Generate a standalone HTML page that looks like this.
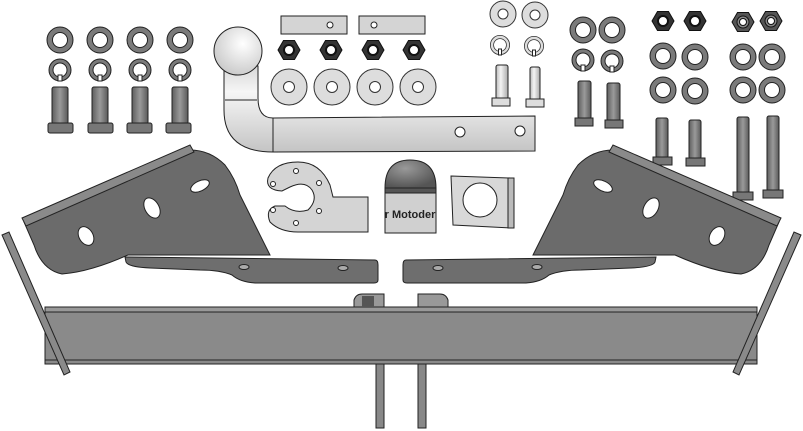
<!DOCTYPE html>
<html><head><meta charset="utf-8"><style>
html,body{margin:0;padding:0;background:#fff;width:803px;height:431px;overflow:hidden}
svg{display:block}
</style></head><body>
<svg width="803" height="431" viewBox="0 0 803 431" xmlns="http://www.w3.org/2000/svg">
<defs>
<linearGradient id="shank" x1="0" x2="1"><stop offset="0" stop-color="#5e5e5e"/><stop offset=".5" stop-color="#9a9a9a"/><stop offset="1" stop-color="#5a5a5a"/></linearGradient>
<linearGradient id="lshank" x1="0" x2="1"><stop offset="0" stop-color="#bbb"/><stop offset=".4" stop-color="#f4f4f4"/><stop offset="1" stop-color="#aaa"/></linearGradient>
<linearGradient id="bar" x1="0" y1="0" x2="0" y2="1"><stop offset="0" stop-color="#d8d8d8"/><stop offset=".3" stop-color="#f6f6f6"/><stop offset="1" stop-color="#c4c4c4"/></linearGradient>
<radialGradient id="ball" cx=".6" cy=".35" r=".7"><stop offset="0" stop-color="#fff"/><stop offset="1" stop-color="#c8c8c8"/></radialGradient>
<radialGradient id="dome" cx=".4" cy=".3" r=".7"><stop offset="0" stop-color="#999"/><stop offset="1" stop-color="#555"/></radialGradient>
<g id="dw"><circle r="13" fill="#7a7a7a" stroke="#222" stroke-width="1"/><circle r="7.5" fill="#fff" stroke="#222" stroke-width="1"/></g>
<g id="ring"><circle r="9" fill="none" stroke="#222" stroke-width="5"/><circle r="9" fill="none" stroke="#7a7a7a" stroke-width="3"/><rect x="-2" y="5" width="4" height="6" fill="#fff"/></g>
<g id="lring"><circle r="8" fill="none" stroke="#333" stroke-width="4"/><circle r="8" fill="none" stroke="#ddd" stroke-width="2.4"/><rect x="-1.5" y="4" width="3" height="6" fill="#fff"/></g>
<g id="nut"><polygon points="-11,0 -5.5,-9.5 5.5,-9.5 11,0 5.5,9.5 -5.5,9.5" fill="#333" stroke="#111"/><circle r="5" fill="#fff" stroke="#111" stroke-width="2"/></g>
<g id="nut2"><polygon points="-11,0 -5.5,-9.5 5.5,-9.5 11,0 5.5,9.5 -5.5,9.5" fill="#555" stroke="#111"/><circle r="6" fill="#888" stroke="#111"/><circle r="3.5" fill="#fff" stroke="#111"/></g>
<g id="lw"><circle r="13" fill="#ddd" stroke="#333"/><circle r="5" fill="#fff" stroke="#333"/></g>
<g id="bw"><circle r="18" fill="#ddd" stroke="#333"/><circle r="5.5" fill="#fff" stroke="#333"/></g>
<g id="lbr" stroke="#222">
<path d="M24,222 L190,150 Q210,150 225,165 Q235,178 240,195 L270,255 L128,255 Q90,272 62,274 Q42,270 34,245 Z" fill="#6b6b6b"/>
<path d="M22,218 L190,145 L194,152 L26,226 Z" fill="#8a8a8a"/>
<ellipse cx="200" cy="186" rx="10" ry="5" transform="rotate(-25 200 186)" fill="#fff"/>
<ellipse cx="152" cy="208" rx="7" ry="11" transform="rotate(-30 152 208)" fill="#fff"/>
<ellipse cx="86" cy="236" rx="7" ry="10" transform="rotate(-30 86 236)" fill="#fff"/>
</g>
<g id="lpl" stroke="#222">
<path d="M125,257 L375,260 Q378,260 378,265 L378,280 Q378,283 374,283 L255,283 Q240,282 232,275 Q220,270 200,270 L150,268 Q128,267 126,262 Z" fill="#6e6e6e"/>
<ellipse cx="244" cy="267" rx="5" ry="2.5" fill="#aaa"/><ellipse cx="343" cy="268" rx="5" ry="2.5" fill="#aaa"/>
</g>
</defs>
<g stroke="#222" stroke-width="1">
<use href="#dw" x="60" y="40"/><use href="#dw" x="100" y="40"/><use href="#dw" x="140" y="40"/><use href="#dw" x="180" y="40"/>
<use href="#ring" x="60" y="70"/><use href="#ring" x="100" y="70"/><use href="#ring" x="140" y="70"/><use href="#ring" x="180" y="70"/>
<g fill="url(#shank)">
<rect x="52" y="87" width="16" height="37" rx="2"/><rect x="92" y="87" width="16" height="37" rx="2"/><rect x="132" y="87" width="16" height="37" rx="2"/><rect x="172" y="87" width="16" height="37" rx="2"/>
</g>
<g fill="#777">
<rect x="48" y="123" width="25" height="10" rx="2"/><rect x="88" y="123" width="25" height="10" rx="2"/><rect x="127" y="123" width="25" height="10" rx="2"/><rect x="166" y="123" width="25" height="10" rx="2"/>
</g>
<rect x="281" y="16" width="66" height="18" fill="#d4d4d4"/><circle cx="330" cy="25" r="3" fill="#fff"/>
<rect x="359" y="16" width="66" height="18" fill="#d4d4d4"/><circle cx="374" cy="25" r="3" fill="#fff"/>
<use href="#nut" x="289" y="50"/><use href="#nut" x="331" y="50"/><use href="#nut" x="373" y="50"/><use href="#nut" x="414" y="50"/>
<use href="#bw" x="289" y="87"/><use href="#bw" x="332" y="87"/><use href="#bw" x="375" y="87"/><use href="#bw" x="418" y="87"/>
<path d="M224,66 L258,66 L258,98 Q258,118 273,118 L535,116 L535,151 L273,152 Q224,152 224,110 Z" fill="url(#bar)"/>
<line x1="273" y1="118" x2="273" y2="152"/><line x1="225" y1="100" x2="257" y2="100"/>
<circle cx="460" cy="132" r="5" fill="#fff"/><circle cx="520" cy="131" r="5" fill="#fff"/>
<circle cx="238" cy="51" r="24" fill="url(#ball)"/>
<use href="#lw" x="503" y="14"/><use href="#lw" x="535" y="15"/>
<use href="#lring" x="500" y="45"/><use href="#lring" x="534" y="46"/>
<rect x="496" y="65" width="12" height="34" rx="2" fill="url(#lshank)"/><rect x="492" y="98" width="18" height="8" fill="#ddd"/>
<rect x="530" y="67" width="10" height="33" rx="2" fill="url(#lshank)"/><rect x="526" y="99" width="18" height="8" fill="#ddd"/>
<use href="#dw" x="583" y="30"/><use href="#dw" x="612" y="30"/>
<use href="#ring" x="583" y="60"/><use href="#ring" x="612" y="61"/>
<rect x="578" y="81" width="13" height="38" rx="2" fill="url(#shank)"/><rect x="575" y="118" width="18" height="8" fill="#777"/>
<rect x="607" y="83" width="13" height="38" rx="2" fill="url(#shank)"/><rect x="605" y="120" width="18" height="8" fill="#777"/>
<use href="#nut" x="663" y="21"/><use href="#nut" x="695" y="21"/>
<use href="#dw" x="663" y="56"/><use href="#dw" x="695" y="57"/>
<use href="#dw" x="663" y="90"/><use href="#dw" x="695" y="91"/>
<rect x="656" y="118" width="12" height="40" rx="2" fill="url(#shank)"/><rect x="653" y="157" width="19" height="8" fill="#777"/>
<rect x="689" y="120" width="12" height="39" rx="2" fill="url(#shank)"/><rect x="686" y="158" width="19" height="8" fill="#777"/>
<use href="#nut2" x="743" y="22"/><use href="#nut2" x="771" y="21"/>
<use href="#dw" x="743" y="57"/><use href="#dw" x="772" y="57"/>
<use href="#dw" x="743" y="90"/><use href="#dw" x="772" y="90"/>
<rect x="737" y="117" width="12" height="76" rx="2" fill="url(#shank)"/><rect x="733" y="192" width="20" height="8" fill="#777"/>
<rect x="767" y="116" width="12" height="75" rx="2" fill="url(#shank)"/><rect x="763" y="190" width="20" height="8" fill="#777"/>
<use href="#lbr"/><use href="#lpl"/>
<use href="#lbr" transform="translate(803,0) scale(-1,1)"/>
<use href="#lpl" transform="translate(781,0) scale(-1,1)"/>
<path d="M298,162 Q320,162 330,185 L333,197 L368,197 L368,232 L298,232 Q280,232 270,222 Q265,210 275,206 L285,206 Q295,214 308,210 Q318,200 312,190 Q305,180 290,187 L282,191 Q265,190 268,178 Q275,162 298,162 Z" fill="#d4d4d4"/>
<circle cx="296" cy="171" r="2.5" fill="#fff"/><circle cx="273" cy="184" r="2.5" fill="#fff"/><circle cx="319" cy="183" r="2.5" fill="#fff"/><circle cx="273" cy="210" r="2.5" fill="#fff"/><circle cx="319" cy="211" r="2.5" fill="#fff"/><circle cx="296" cy="223" r="2.5" fill="#fff"/>
<path d="M385,188 Q385,160 410,160 Q436,160 436,188 Z" fill="url(#dome)"/>
<rect x="385" y="188" width="51" height="5" fill="#555"/>
<rect x="385" y="193" width="51" height="40" fill="#d0d0d0"/>
<path d="M451,176 L510,178 L512,228 L453,225 Z" fill="#d8d8d8"/>
<circle cx="480" cy="200" r="17" fill="#fff"/>
<rect x="508" y="178" width="6" height="50" fill="#bbb"/>
<rect x="45" y="307" width="712" height="57" fill="#8a8a8a"/>
<rect x="45" y="307" width="712" height="5" fill="#999"/>
<line x1="45" y1="360" x2="757" y2="360"/>
<path d="M2,235 L9,232 L70,372 L64,375 Z" fill="#8a8a8a"/>
<path d="M801,235 L794,232 L733,372 L739,375 Z" fill="#8a8a8a"/>
<path d="M354,307 L354,300 Q356,294 362,294 L384,294 L384,307 Z" fill="#999"/><rect x="362" y="296" width="12" height="11" fill="#555" stroke="none"/>
<path d="M418,307 L418,294 L440,294 Q446,294 448,300 L448,307 Z" fill="#999"/>
<rect x="376" y="364" width="8" height="64" fill="#888"/>
<rect x="418" y="364" width="8" height="64" fill="#888"/>
</g>
<text x="410" y="218" font-family="Liberation Sans, sans-serif" font-weight="bold" font-size="11" text-anchor="middle" fill="#222">r Motoder</text>
</svg>
</body></html>
